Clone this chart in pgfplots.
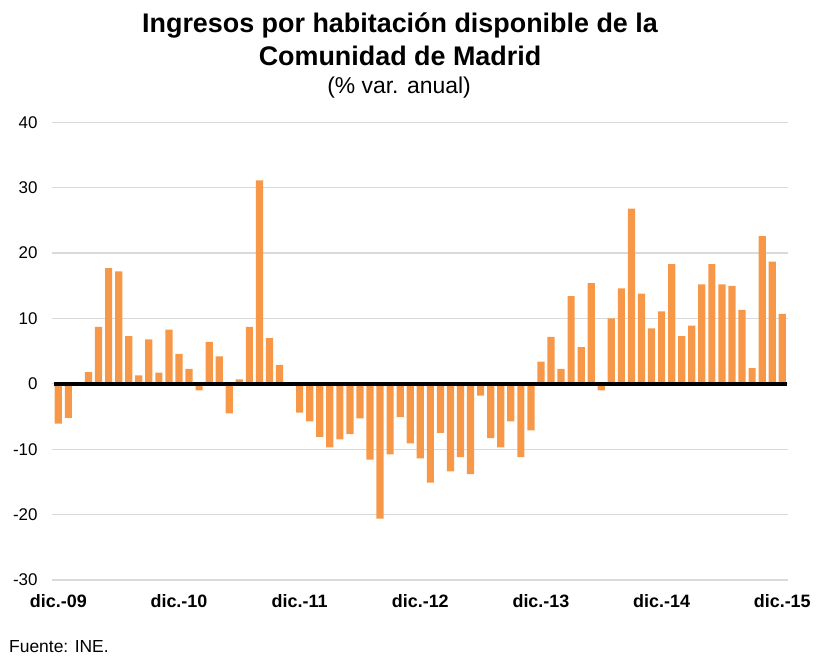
\documentclass[border=0pt]{standalone}
\usepackage{fontspec}
\setmainfont{Liberation Sans}
\usepackage{pgfplots}
\pgfplotsset{compat=1.18}
\definecolor{barorange}{RGB}{247,152,72}
\definecolor{gridgray}{RGB}{218,218,218}
\begin{document}
\begin{tikzpicture}
\path[use as bounding box] (0,0) rectangle (816bp,657bp);
\begin{axis}[
  at={(52bp,77bp)}, anchor=south west,
  scale only axis, width=736bp, height=457.7bp,
  xmin=-0.63, xmax=72.57, ymin=-30, ymax=40,
  axis line style={draw=none},
  major tick length=0pt,
  ymajorgrids, grid style={gridgray, line width=1.3bp},
  ytick={-30,-20,-10,0,10,20,30,40},
  yticklabels={-30,-20,-10,0,10,20,30,40},
  yticklabel style={font=\fontsize{17}{20}\selectfont, anchor=east, xshift=-11bp},
  xtick={0,12,24,36,48,60,72},
  xticklabels={dic.-09,dic.-10,dic.-11,dic.-12,dic.-13,dic.-14,dic.-15},
  xticklabel style={font=\fontsize{18}{21}\selectfont\bfseries, yshift=-11bp},
  clip=false,
]
\addplot[ybar, bar width=7.2bp, bar shift=0pt, fill=barorange, draw=none] coordinates {
(0,-6.1) (1,-5.2) (2,0) (3,1.8) (4,8.7) (5,17.7) (6,17.2) (7,7.3) (8,1.3) (9,6.8)
(10,1.7) (11,8.3) (12,4.6) (13,2.3) (14,-1.0) (15,6.4) (16,4.2) (17,-4.5) (18,0.7) (19,8.7)
(20,31.1) (21,7.0) (22,2.9) (23,0) (24,-4.4) (25,-5.75) (26,-8.1) (27,-9.7) (28,-8.5) (29,-7.7)
(30,-5.3) (31,-11.6) (32,-20.6) (33,-10.8) (34,-5.1) (35,-9.1) (36,-11.4) (37,-15.1) (38,-7.5) (39,-13.4)
(40,-11.2) (41,-13.8) (42,-1.8) (43,-8.3) (44,-9.7) (45,-5.75) (46,-11.2) (47,-7.1) (48,3.4) (49,7.2)
(50,2.3) (51,13.4) (52,5.6) (53,15.4) (54,-1.0) (55,10.0) (56,14.6) (57,26.8) (58,13.8) (59,8.5)
(60,11.1) (61,18.3) (62,7.3) (63,8.9) (64,15.2) (65,18.3) (66,15.2) (67,15.0) (68,11.3) (69,2.4)
(70,22.6) (71,18.7) (72,10.7)
};
\addplot[black, line width=4bp, mark=none] coordinates {(-0.43,0) (72.44,0)};
\end{axis}
\node[anchor=base, font=\fontsize{27}{30}\selectfont\bfseries] at (400bp,624bp) {Ingresos por habitación disponible de la};
\node[anchor=base, font=\fontsize{27}{30}\selectfont\bfseries] at (400bp,591bp) {Comunidad de Madrid};
\node[anchor=base, font=\fontsize{23}{26}\selectfont] at (399bp,563bp) {(\% var. anual)};
\node[anchor=base west, inner sep=0pt, font=\fontsize{17.5}{20}\selectfont] at (9bp,5bp) {Fuente: INE.};
\end{tikzpicture}
\end{document}
